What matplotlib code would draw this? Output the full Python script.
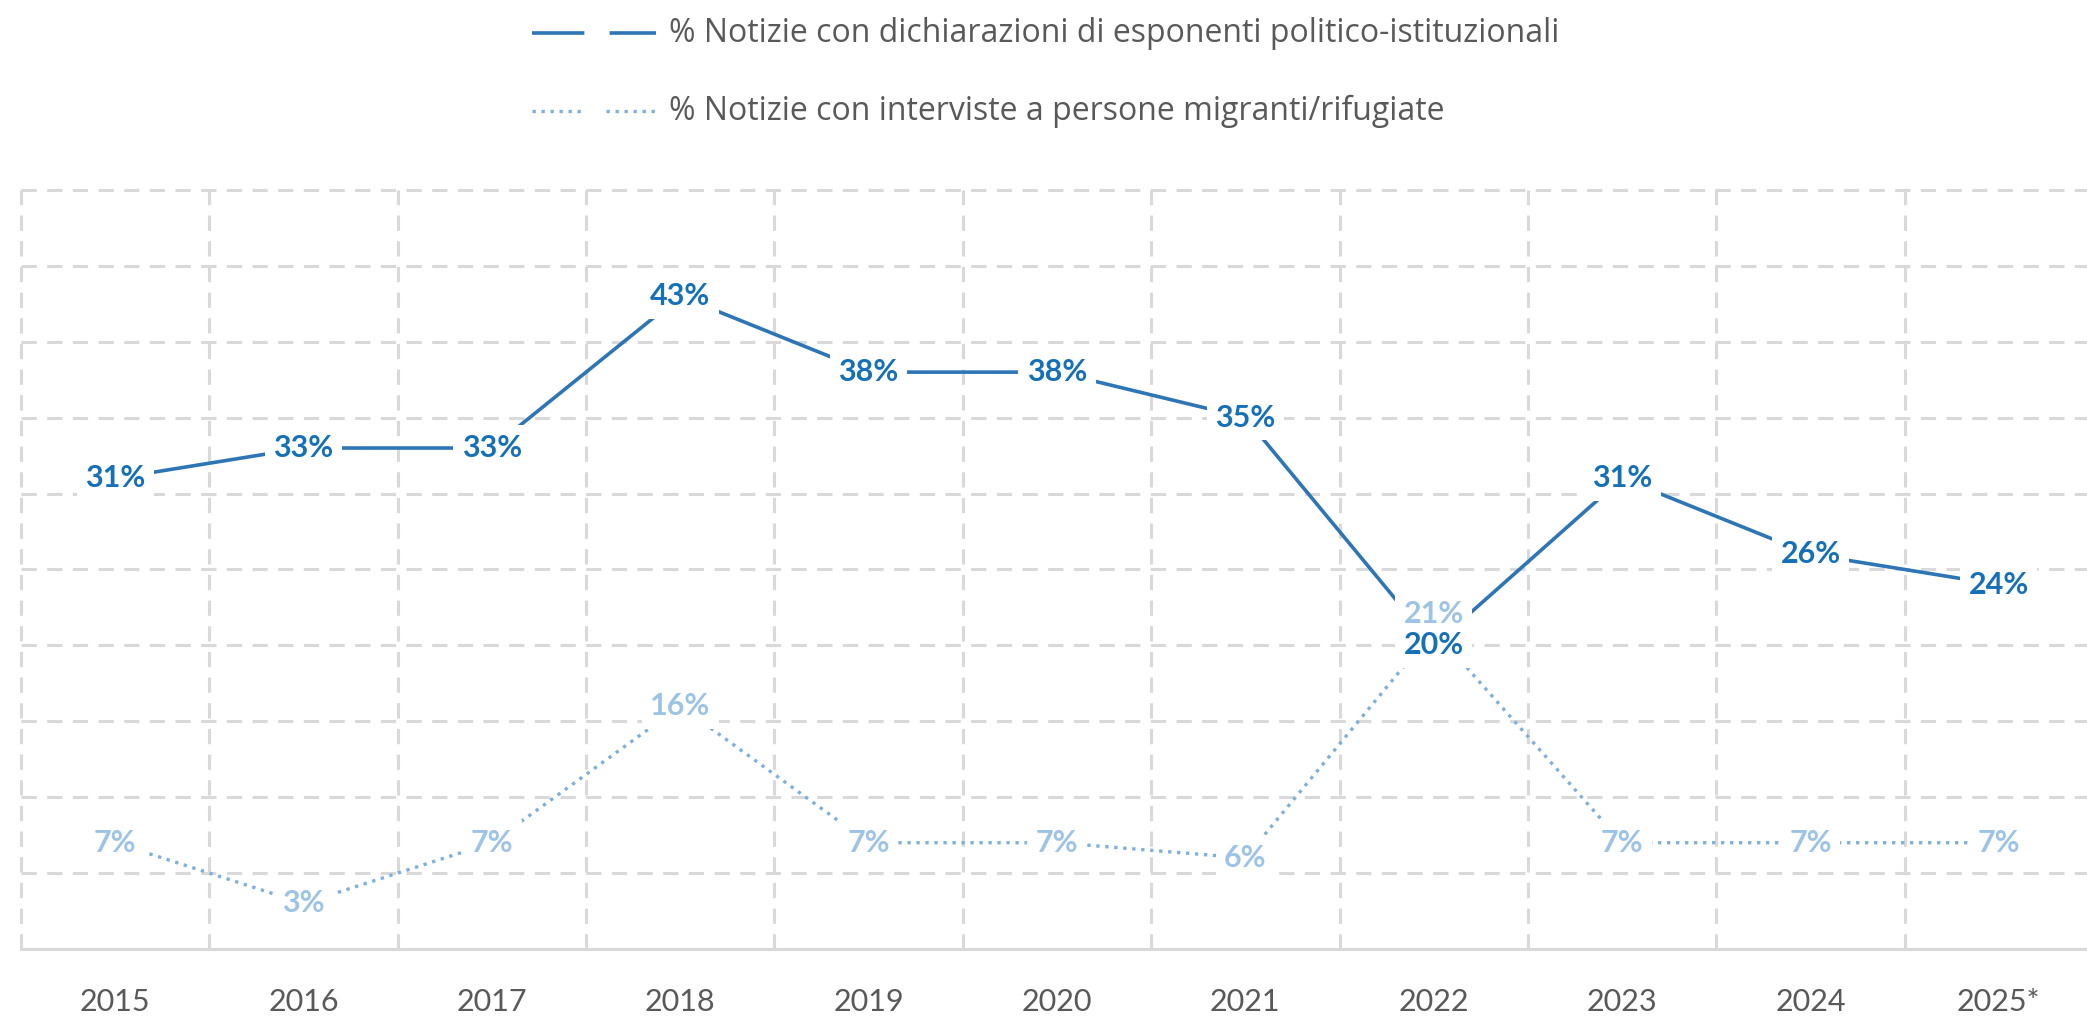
import matplotlib
matplotlib.use("Agg")
import matplotlib.pyplot as plt
from matplotlib.lines import Line2D
import numpy as np

plt.rcParams['font.family'] = ['Lato', 'DejaVu Sans']

years = ["2015", "2016", "2017", "2018", "2019", "2020", "2021", "2022", "2023", "2024", "2025*"]
dichiarazioni = [31, 33, 33, 43, 38, 38, 35, 20, 31, 26, 24]
interviste = [7, 3, 7, 16, 7, 7, 6, 21, 7, 7, 7]
label1 = "% Notizie con dichiarazioni di esponenti politico-istituzionali"
label2 = "% Notizie con interviste a persone migranti/rifugiate"

c1_line = "#2E75B6"
c1_text = "#1670B8"
c2_line = "#7FB0DC"
c2_text = "#9DC3E6"
grid_c = "#D9D9D9"
txt_c = "#595959"

W, H = 2087, 1021
fig = plt.figure(figsize=(W / 100, H / 100), dpi=100)
left, right, bottom, top = 21 / W, 2093 / W, 1 - 949 / H, 1 - 185.4 / H
ax = fig.add_axes([left, bottom, right - left, top - bottom])

x = np.arange(len(years))
ax.set_xlim(-0.5, len(years) - 0.5)
ax.set_ylim(0, 50.3)

# grid
grid_ls = (0, (5, 3.4))
ax.hlines(np.arange(5, 51, 5), -0.5, len(years) - 0.5, colors=grid_c, lw=2.2,
          linestyles=[grid_ls], zorder=1, clip_on=False)
ax.vlines(np.arange(-0.5, len(years) - 0.5, 1.0), 0, 50, colors=grid_c, lw=2.2,
          linestyles=[grid_ls], zorder=1, clip_on=False)

for s in ["top", "right", "left"]:
    ax.spines[s].set_visible(False)
ax.spines["bottom"].set_color(grid_c)
ax.spines["bottom"].set_linewidth(2.2)
ax.set_yticks([])
ax.set_xticks(x)
ax.set_xticklabels(years, fontsize=22, color=txt_c)
ax.tick_params(axis="x", length=0, pad=28)

ax.plot(x, dichiarazioni, color=c1_line, lw=2.6, zorder=3, solid_capstyle="butt")
ax.plot(x, interviste, color=c2_line, lw=2.4, zorder=3, linestyle=(0, (1, 1.7)))

bbox = dict(boxstyle="square,pad=0.28", fc="white", ec="none")
for xi, v in zip(x, dichiarazioni):
    ax.annotate(f"{v}%", (xi, v), xytext=(0, 0), textcoords="offset points",
                ha="center", va="center", fontsize=22, fontweight="bold",
                color=c1_text, bbox=bbox, zorder=6)
for xi, v, v1 in zip(x, interviste, dichiarazioni):
    dy = 12 if abs(v - v1) < 3 else 0
    ax.annotate(f"{v}%", (xi, v), xytext=(0, dy), textcoords="offset points",
                ha="center", va="center", fontsize=22, fontweight="bold",
                color=c2_text, bbox=bbox, zorder=5)

# legend (manual)
hx0, hx1, tx = 532 / W, 656 / W, 669 / W
y1, y2 = 1 - 33 / H, 1 - 111 / H
fig.add_artist(Line2D([hx0, hx1], [y1, y1], transform=fig.transFigure, color=c1_line,
                      lw=2.6, linestyle=(0, (14.5, 7)), solid_capstyle="butt"))
dot_pat = [1, 1.7] * 5 + [1, 7.7]
fig.add_artist(Line2D([hx0, hx1], [y2, y2], transform=fig.transFigure, color=c2_line,
                      lw=2.4, linestyle=(0, dot_pat)))
fig.text(tx, y1, label1, fontsize=23, color=txt_c, ha="left", va="center",
         family=['Open Sans', 'DejaVu Sans'])
fig.text(tx, y2, label2, fontsize=23, color=txt_c, ha="left", va="center",
         family=['Open Sans', 'DejaVu Sans'])

fig.savefig("out.png", dpi=100, facecolor="white")
